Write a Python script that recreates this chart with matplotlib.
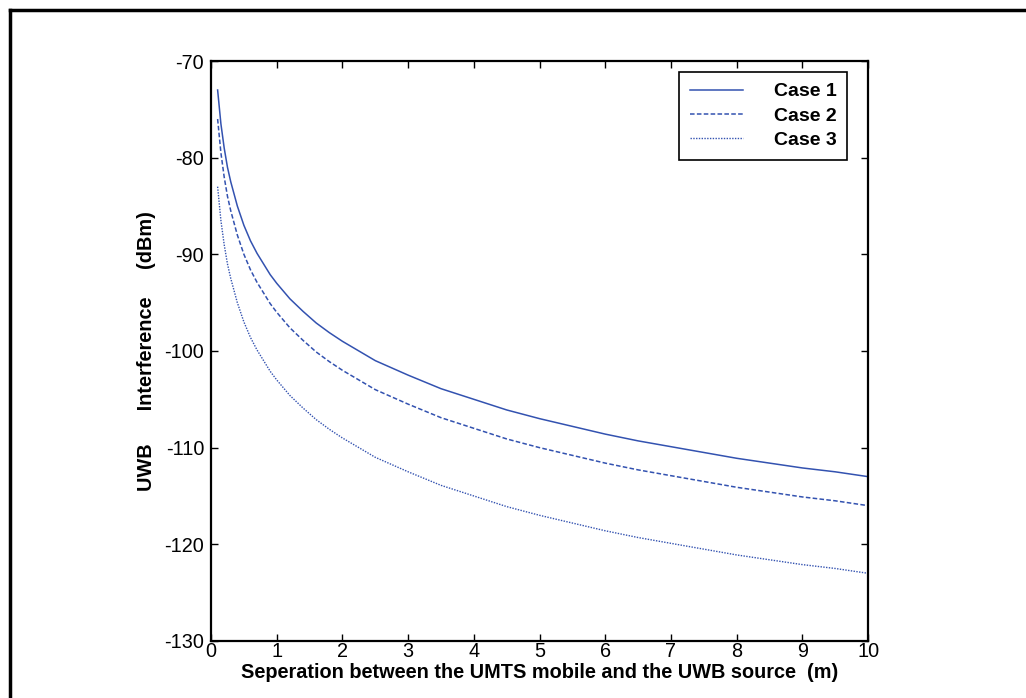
import matplotlib
matplotlib.use('Agg')
import matplotlib.pyplot as plt
import matplotlib.lines as mlines

plt.rcParams['font.family'] = ['Liberation Sans', 'DejaVu Sans']
plt.rcParams['axes.unicode_minus'] = False

# separation (m)
sep = [0.1, 0.15, 0.2, 0.25, 0.3, 0.4, 0.5, 0.6, 0.7, 0.8, 0.9, 1.0,
       1.2, 1.4, 1.6, 1.8, 2.0, 2.5, 3.0, 3.5, 4.0, 4.5, 5.0, 5.5,
       6.0, 6.5, 7.0, 7.5, 8.0, 8.5, 9.0, 9.5, 10.0]

case1 = [-73.0, -76.5, -79.0, -81.0, -82.5, -85.0, -87.0, -88.6, -89.9, -91.0, -92.1, -93.0,
         -94.6, -95.9, -97.1, -98.1, -99.0, -101.0, -102.5, -103.9, -105.0, -106.1, -107.0, -107.8,
         -108.6, -109.3, -109.9, -110.5, -111.1, -111.6, -112.1, -112.5, -113.0]
case2 = [-76.0, -79.5, -82.0, -84.0, -85.5, -88.0, -90.0, -91.6, -92.9, -94.0, -95.1, -96.0,
         -97.6, -98.9, -100.1, -101.1, -102.0, -104.0, -105.5, -106.9, -108.0, -109.1, -110.0, -110.8,
         -111.6, -112.3, -112.9, -113.5, -114.1, -114.6, -115.1, -115.5, -116.0]
case3 = [-83.0, -86.5, -89.0, -91.0, -92.5, -95.0, -97.0, -98.6, -99.9, -101.0, -102.1, -103.0,
         -104.6, -105.9, -107.1, -108.1, -109.0, -111.0, -112.5, -113.9, -115.0, -116.1, -117.0, -117.8,
         -118.6, -119.3, -119.9, -120.5, -121.1, -121.6, -122.1, -122.5, -123.0]

labels = ['Case 1', 'Case 2', 'Case 3']
blue = '#3352b0'

fig = plt.figure(figsize=(10.26, 6.98), dpi=100)
ax = fig.add_axes([0.2057, 0.0817, 0.6404, 0.8309])

ax.plot(sep, case1, color=blue, linestyle='-', linewidth=1.1, label=labels[0])
ax.plot(sep, case2, color=blue, linestyle=(0, (3, 1.5)), linewidth=1.1, label=labels[1])
ax.plot(sep, case3, color=blue, linestyle=(0, (1, 1)), linewidth=1.0, label=labels[2])

ax.set_xlim(0, 10)
ax.set_ylim(-130, -70)
ax.set_xticks(range(0, 11))
ax.set_yticks(range(-130, -69, 10))
ax.tick_params(direction='in', length=5, width=1, labelsize=14.3, top=True, right=True)
ax.tick_params(axis='x', pad=1)
ax.tick_params(axis='y', pad=5)
for s in ax.spines.values():
    s.set_linewidth(1.6)

ax.set_xlabel('Seperation between the UMTS mobile and the UWB source  (m)',
              fontsize=14.3, fontweight='bold', labelpad=1)
ax.set_ylabel('UWB      Interference     (dBm)', fontsize=14.3, fontweight='bold', labelpad=6)

leg = ax.legend(loc='upper right', bbox_to_anchor=(0.968, 0.981), fancybox=False,
                edgecolor='black', framealpha=1, handlelength=2.7, handletextpad=1.6,
                prop={'weight': 'bold', 'size': 14}, borderpad=0.55, labelspacing=0.35,
                borderaxespad=0)
leg.get_frame().set_linewidth(1.2)

# outer frame (only top and left edges are visible)
fig.add_artist(mlines.Line2D([0.0097, 1.0], [0.9857, 0.9857], color='black', linewidth=2.5,
                             transform=fig.transFigure))
fig.add_artist(mlines.Line2D([0.0097, 0.0097], [0.0, 0.9857], color='black', linewidth=2.5,
                             transform=fig.transFigure))

fig.savefig('out.png', dpi=100)
